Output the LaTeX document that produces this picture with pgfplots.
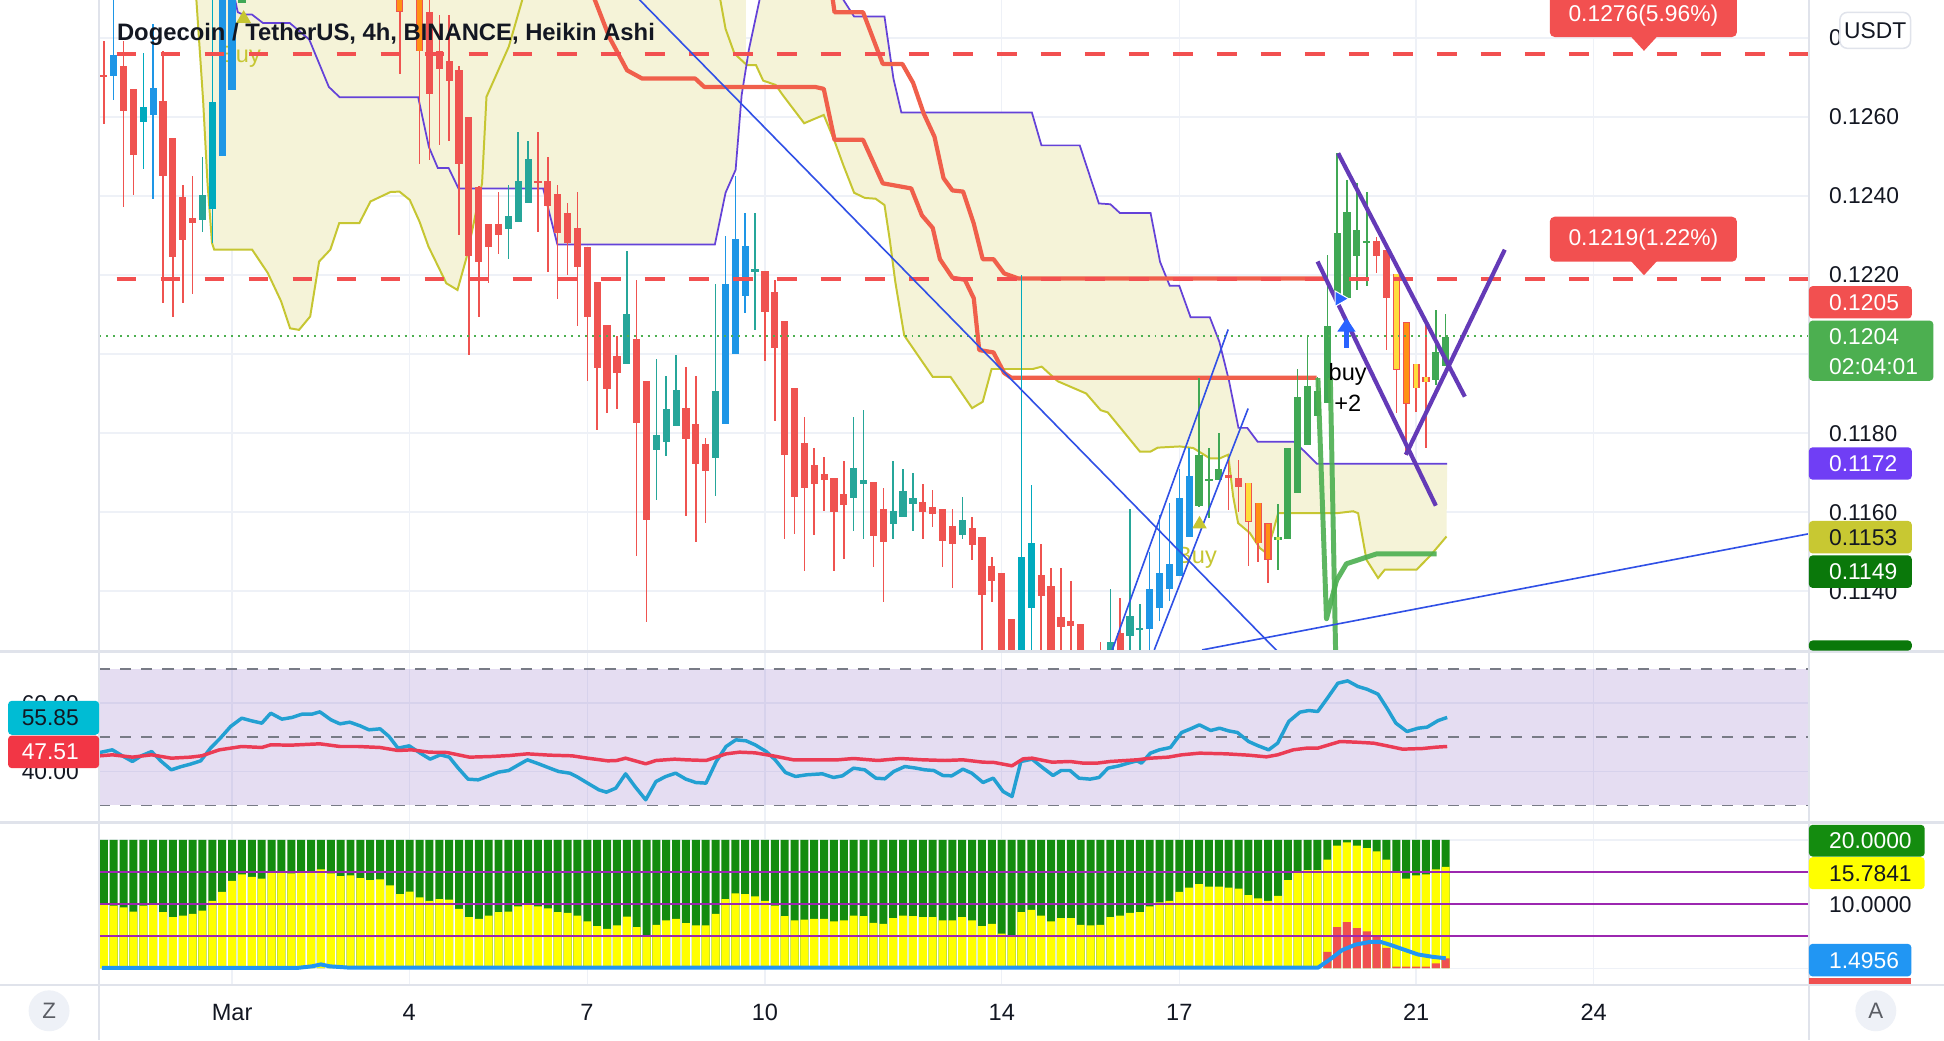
\documentclass[border=0pt]{standalone}
\usepackage{pgfplots}
\pgfplotsset{compat=1.18}
\usepackage{pgfplotstable}
\usepackage{fontspec}
\setmainfont{Liberation Sans}
\usetikzlibrary{arrows.meta}

\definecolor{cRed}{RGB}{239,83,80}
\definecolor{cTeal}{RGB}{38,166,154}
\definecolor{cCyan}{RGB}{0,170,190}
\definecolor{cBlue}{RGB}{30,150,230}
\definecolor{cGreen}{RGB}{64,168,85}
\definecolor{cOrange}{RGB}{255,145,20}
\definecolor{cYellow}{RGB}{255,220,60}
\definecolor{cLime}{RGB}{200,230,80}
\definecolor{cCloud}{RGB}{245,243,216}
\definecolor{cOlive}{RGB}{198,198,50}
\definecolor{cPurple}{RGB}{100,66,216}
\definecolor{cLine}{RGB}{240,95,75}
\definecolor{cDash}{RGB}{242,80,80}
\definecolor{cTrend}{RGB}{48,80,230}
\definecolor{cChan}{RGB}{100,58,183}
\definecolor{cThickG}{RGB}{76,175,80}
\definecolor{cRsiB}{RGB}{35,160,210}
\definecolor{cRsiR}{RGB}{235,60,85}
\definecolor{cRsiBg}{RGB}{126,87,194}
\definecolor{cRsiDash}{RGB}{120,123,134}
\definecolor{cBarG}{RGB}{20,140,15}
\definecolor{cBarY}{RGB}{255,255,0}
\definecolor{cBarR}{RGB}{240,80,80}
\definecolor{cBarB}{RGB}{33,150,243}
\definecolor{cHl}{RGB}{156,39,176}
\definecolor{cGrid}{RGB}{238,241,247}
\definecolor{cSep}{RGB}{224,227,235}
\definecolor{cTxt}{RGB}{19,23,34}
\definecolor{bRed}{RGB}{242,80,80}
\definecolor{bGreen}{RGB}{76,175,80}
\definecolor{bPurple}{RGB}{112,62,245}
\definecolor{bOlive}{RGB}{200,200,50}
\definecolor{bDkGreen}{RGB}{10,120,10}
\definecolor{bCyan}{RGB}{0,188,212}
\definecolor{bRsiRed}{RGB}{242,54,69}
\definecolor{cMark}{RGB}{41,98,255}

% ---------- candles (Heikin Ashi): k = 4h bar index from 1 Mar ----------
\pgfplotstableread{
k bt bb wt wb
-13 0.12705 0.12701 0.12793 0.12582
-11 0.12729 0.12614 0.12793 0.12372
-10 0.12672 0.12503 0.12672 0.12403
-7 0.12640 0.12451 0.12766 0.12129
-6 0.12547 0.12245 0.12547 0.12093
-5 0.12398 0.12289 0.12429 0.12129
-4 0.12343 0.12332 0.12451 0.12151
20 0.12866 0.12658 0.12900 0.12490
21 0.12766 0.12721 0.12858 0.12529
22 0.12742 0.12692 0.12858 0.12540
23 0.12719 0.12482 0.12729 0.12300
24 0.12600 0.12247 0.12600 0.11998
25 0.12424 0.12232 0.12424 0.12093
26 0.12329 0.12272 0.12329 0.12179
27 0.12329 0.12300 0.12411 0.12253
31 0.12437 0.12433 0.12561 0.12308
32 0.12437 0.12375 0.12498 0.12208
33 0.12405 0.12306 0.12429 0.12140
34 0.12356 0.12282 0.12382 0.12200
35 0.12319 0.12221 0.12411 0.12072
36 0.12272 0.12093 0.12272 0.11932
37 0.12182 0.11964 0.12182 0.11808
38 0.12074 0.11912 0.12074 0.11851
39 0.11995 0.11953 0.12045 0.11861
41 0.12037 0.11826 0.12187 0.11489
42 0.11932 0.11580 0.11932 0.11321
46 0.11863 0.11785 0.11966 0.11589
47 0.11824 0.11721 0.11945 0.11524
48 0.11772 0.11705 0.11787 0.11572
54 0.12211 0.12106 0.12211 0.11982
55 0.12158 0.12014 0.12187 0.11830
56 0.12084 0.11745 0.12084 0.11532
57 0.11914 0.11638 0.11914 0.11545
58 0.11774 0.11661 0.11840 0.11451
59 0.11719 0.11672 0.11761 0.11542
60 0.11695 0.11680 0.11740 0.11603
61 0.11687 0.11601 0.11687 0.11451
62 0.11645 0.11619 0.11730 0.11482
65 0.11677 0.11540 0.11677 0.11461
66 0.11608 0.11524 0.11661 0.11372
70 0.11626 0.11600 0.11672 0.11532
71 0.11614 0.11596 0.11656 0.11563
72 0.11608 0.11526 0.11608 0.11461
73 0.11566 0.11519 0.11608 0.11408
75 0.11559 0.11516 0.11587 0.11479
76 0.11537 0.11390 0.11537 0.11200
77 0.11464 0.11426 0.11487 0.11372
78 0.11445 0.11200 0.11445 0.11200
79 0.11330 0.11200 0.11330 0.11200
82 0.11440 0.11387 0.11519 0.11200
83 0.11414 0.11200 0.11458 0.11200
84 0.11335 0.11308 0.11458 0.11200
85 0.11324 0.11311 0.11426 0.11200
86 0.11316 0.11200 0.11316 0.11200
88 0.11240 0.11200 0.11272 0.11200
90 0.11293 0.11200 0.11382 0.11200
101 0.11694 0.11685 0.11740 0.11605
102 0.11687 0.11664 0.11732 0.11601
116 0.12285 0.12248 0.12297 0.12204
117 0.12263 0.12141 0.12263 0.12010
}\tRed
\pgfplotstableread{
k bt bb wt wb
-3 0.12403 0.12340 0.12498 0.12308
28 0.12348 0.12317 0.12429 0.12240
29 0.12438 0.12333 0.12561 0.12333
30 0.12493 0.12382 0.12540 0.12382
40 0.12101 0.11974 0.12261 0.11974
43 0.11795 0.11756 0.11987 0.11630
44 0.11861 0.11777 0.11945 0.11742
45 0.11908 0.11819 0.11998 0.11819
49 0.11906 0.11737 0.12177 0.11640
53 0.12214 0.12208 0.12358 0.12061
63 0.11711 0.11635 0.11840 0.11551
64 0.11682 0.11672 0.11859 0.11532
67 0.11603 0.11569 0.11730 0.11532
68 0.11653 0.11587 0.11708 0.11587
69 0.11635 0.11621 0.11700 0.11551
74 0.11580 0.11542 0.11637 0.11532
89 0.11272 0.11200 0.11405 0.11200
91 0.11338 0.11287 0.11608 0.11200
92 0.11306 0.11301 0.11366 0.11200
}\tTeal
\pgfplotstableread{
k bt bb wt wb
-9 0.12626 0.12586 0.12761 0.12468
-2 0.12637 0.12368 0.12920 0.12282
80 0.11487 0.11200 0.12200 0.11200
81 0.11521 0.11356 0.11668 0.11200
}\tCyan
\pgfplotstableread{
k bt bb wt wb
-12 0.12756 0.12703 0.12920 0.12642
-8 0.12674 0.12605 0.12835 0.12393
-1 0.13000 0.12500 0.13050 0.12500
0 0.13050 0.12668 0.13100 0.12668
50 0.12176 0.11824 0.12298 0.11824
51 0.12290 0.12000 0.12451 0.12000
52 0.12274 0.12147 0.12358 0.12103
93 0.11405 0.11303 0.11498 0.11200
94 0.11447 0.11356 0.11593 0.11324
95 0.11468 0.11405 0.11624 0.11374
96 0.11635 0.11437 0.11708 0.11437
97 0.11690 0.11537 0.11761 0.11537
}\tBlue
\pgfplotstableread{
k bt bb wt wb
1 0.13000 0.12889 0.13050 0.12889
98 0.11744 0.11614 0.11939 0.11614
99 0.11683 0.11680 0.11761 0.11584
100 0.11708 0.11681 0.11799 0.11681
107 0.11761 0.11533 0.11761 0.11533
108 0.11892 0.11649 0.11961 0.11649
109 0.11919 0.11770 0.12048 0.11770
110 0.11907 0.11844 0.11943 0.11844
111 0.12071 0.11875 0.12251 0.11875
112 0.12307 0.12141 0.12508 0.12141
113 0.12360 0.12141 0.12441 0.12141
114 0.12314 0.12248 0.12432 0.12162
115 0.12287 0.12282 0.12411 0.12171
122 0.12004 0.11934 0.12112 0.11922
123 0.12042 0.11970 0.12101 0.11970
}\tGreen
\pgfplotstableread{
k bt bb wt wb
17 0.13000 0.12866 0.13000 0.12708
19 0.13000 0.12766 0.13000 0.12482
104 0.11624 0.11521 0.11624 0.11474
105 0.11571 0.11479 0.11571 0.11421
119 0.12080 0.11874 0.12080 0.11744
}\tOrange
\pgfplotstableread{
k bt bb wt wb
103 0.11674 0.11576 0.11674 0.11463
118 0.12203 0.11960 0.12203 0.11852
120 0.11975 0.11913 0.11975 0.11852
121 0.11943 0.11928 0.12086 0.11761
}\tYellow
\pgfplotstableread{
k bt bb wt wb
106 0.11538 0.11529 0.11620 0.11453
}\tLime

% ---------- oscillator panel ----------
\pgfplotstableread{
k g y
-13 20 9.85
-12 20 9.74
-11 20 9.49
-10 20 8.82
-9 20 9.74
-8 20 9.85
-7 20 8.72
-6 20 7.95
-5 20 8.21
-4 20 8.46
-3 20 8.97
-2 20 10.51
-1 20 11.90
0 20 13.59
1 20 14.62
2 20 14.21
3 20 13.95
4 20 15.13
5 20 14.87
6 20 14.77
7 20 14.97
8 20 14.97
9 20 15.38
10 20 14.77
11 20 14.36
12 20 14.46
13 20 14.05
14 20 13.74
15 20 13.85
16 20 12.92
17 20 11.54
18 20 11.95
19 20 11.03
20 20 10.51
21 20 10.77
22 20 10.67
23 20 9.23
24 20 7.95
25 20 7.69
26 20 8.21
27 20 8.72
28 20 8.82
29 20 9.64
30 20 9.85
31 20 9.64
32 20 9.33
33 20 8.72
34 20 8.62
35 20 8.21
36 20 7.28
37 20 6.56
38 20 6.15
39 20 6.67
40 20 8.05
41 20 6.41
42 20 5.03
43 20 6.77
44 20 7.44
45 20 7.69
46 20 7.03
47 20 6.67
48 20 6.67
49 20 8.46
50 20 10.77
51 20 11.64
52 20 11.54
53 20 11.18
54 20 10.51
55 20 9.74
56 20 8.13
57 20 7.44
58 20 7.59
59 20 7.69
60 20 7.69
61 20 7.28
62 20 7.44
63 20 8.21
64 20 8.10
65 20 7.08
66 20 6.92
67 20 7.79
68 20 8.21
69 20 8.10
70 20 7.95
71 20 7.95
72 20 7.44
73 20 7.44
74 20 7.95
75 20 7.44
76 20 6.56
77 20 6.92
78 20 5.38
79 20 4.87
80 20 8.72
81 20 9.08
82 20 8.21
83 20 7.28
84 20 7.79
85 20 7.79
86 20 6.77
87 20 6.67
88 20 6.77
89 20 7.95
90 20 8.21
91 20 8.62
92 20 8.72
93 20 9.64
94 20 10.26
95 20 10.51
96 20 11.90
97 20 12.56
98 20 13.08
99 20 12.72
100 20 12.72
101 20 12.56
102 20 12.41
103 20 11.38
104 20 10.87
105 20 10.51
106 20 11.28
107 20 13.74
108 20 15.13
109 20 15.28
110 20 15.28
111 20 16.92
112 20 19.08
113 20 19.59
114 20 19.08
115 20 18.72
116 20 18.21
117 20 16.92
118 20 15.13
119 20 13.95
120 20 14.46
121 20 14.62
122 20 15.38
123 20 15.78
}\tOsc
\pgfplotstableread{
k r
111 2.56
112 6.41
113 7.18
114 6.26
115 5.74
116 4.87
117 3.18
118 0.26
119 0.26
120 0.26
121 0.26
122 0.77
123 1.54
}\tOscR

\pgfplotsset{candle/.style={only marks, mark=*, mark size=0pt, mark options={draw=none, fill=none}}}
\newcommand{\candles}[3]{%
\addplot[candle, color=#2, error bars/.cd, y dir=both, y explicit, error mark=none,
  error bar style={line width=0.6pt}]
  table[x expr=\thisrow{k}/6, y expr=(\thisrow{wt}+\thisrow{wb})/2, y error expr=(\thisrow{wt}-\thisrow{wb})/2] {#1};
\addplot[candle, color=#3, error bars/.cd, y dir=both, y explicit, error mark=none,
  error bar style={line width=2.9pt}]
  table[x expr=\thisrow{k}/6, y expr=(\thisrow{bt}+\thisrow{bb})/2, y error expr=(\thisrow{bt}-\thisrow{bb})/2] {#1};
}
\newcommand{\innerbody}[2]{%
\addplot[candle, color=#2, error bars/.cd, y dir=both, y explicit, error mark=none,
  error bar style={line width=1.9pt}]
  table[x expr=\thisrow{k}/6, y expr=(\thisrow{bt}+\thisrow{bb})/2, y error expr=(\thisrow{bt}-\thisrow{bb})/2-0.000012] {#1};
}

\pgfplotsset{panel/.style={scale only axis, width=689.5pt, xmin=-2.245, xmax=26.634,
  axis line style={draw=none}, major tick length=0pt,
  xtick={0,3,6,9,13,16,20,23}, xticklabel=\empty, yticklabel=\empty,
  scaled y ticks=false, scaled x ticks=false,
  grid=major, major grid style={draw=cGrid, line width=0.6pt},
  clip mode=individual, anchor=north west}}

\newcommand{\lf}{\fontsize{9.2}{10}\selectfont}

\begin{document}
\begin{tikzpicture}
\fill[white] (0,0) rectangle (784pt,419.5pt);
\useasboundingbox (0,0) rectangle (784pt,419.5pt);

% ================= MAIN PANEL =================
\begin{axis}[panel, at={(40pt,419.5pt)}, height=262.75pt,
  ymin=0.11247, ymax=0.12896,
  ytick={0.114,0.116,0.118,0.120,0.122,0.124,0.126,0.128}]
% cloud
\addplot[fill=cCloud, draw=none] coordinates {
(-0.603,0.12928) (-0.603,0.12896) (-0.490,0.12643) (-0.415,0.12432) (-0.339,0.12281) (-0.302,0.12264)
(0.339,0.12264) (0.603,0.12205) (0.829,0.12133) (0.980,0.12065) (1.131,0.12061) (1.319,0.12095)
(1.470,0.12234) (1.659,0.12264) (1.809,0.12331) (2.149,0.12331) (2.337,0.12386) (2.676,0.12410)
(2.827,0.12411) (3.001,0.12390) (3.166,0.12335) (3.317,0.12272) (3.619,0.12179) (3.807,0.12162)
(3.958,0.12243) (4.205,0.12419) (5.254,0.12419) (5.495,0.12277) (8.155,0.12277) (8.335,0.12408)
(8.505,0.12466) (8.607,0.12655) (8.677,0.12731) (8.677,0.12928)};
\addplot[fill=cCloud, draw=none] coordinates {
(8.677,0.12731) (8.729,0.12770) (8.909,0.12896) (8.909,0.12928) (10.327,0.12928) (10.327,0.12896)
(10.507,0.12854) (11.020,0.12854) (11.171,0.12697) (11.305,0.12611) (13.510,0.12611) (13.671,0.12528)
(14.318,0.12528) (14.641,0.12381) (14.836,0.12379) (14.995,0.12357) (15.514,0.12357) (15.675,0.12233)
(15.837,0.12173) (15.998,0.12173) (16.190,0.12093) (16.515,0.12093) (16.676,0.12031) (16.838,0.11933)
(16.999,0.11813) (17.148,0.11813) (17.323,0.11778) (17.937,0.11778) (18.132,0.11751) (18.325,0.11722)
(20.524,0.11722) (20.513,0.11538) (20.230,0.11488) (20.006,0.11454) (19.470,0.11454) (19.357,0.11433)
(19.162,0.11479) (19.020,0.11597) (18.936,0.11602) (18.655,0.11597) (17.669,0.11597) (17.585,0.11551)
(17.472,0.11496) (17.359,0.11509) (17.191,0.11547) (16.993,0.11572) (16.909,0.11640) (16.825,0.11745)
(16.685,0.11736) (16.515,0.11736) (16.375,0.11749) (16.235,0.11762) (16.008,0.11766) (15.636,0.11763)
(15.514,0.11753) (15.334,0.11753) (14.792,0.11852) (14.670,0.11858) (14.427,0.11900) (13.946,0.11931)
(13.675,0.11968) (13.525,0.11962) (12.829,0.11962) (12.679,0.11879) (12.499,0.11863) (12.136,0.11942)
(11.835,0.11942) (11.353,0.12047) (11.202,0.12183) (11.110,0.12288) (11.020,0.12377) (10.869,0.12393)
(10.689,0.12395) (10.507,0.12408) (10.327,0.12477) (10.176,0.12539) (9.994,0.12605) (9.663,0.12584)
(9.303,0.12655) (9.181,0.12681) (8.970,0.12692) (8.850,0.12731) (8.697,0.12731)};
% olive span
\addplot[cOlive, line width=0.8pt] coordinates {
(-0.62,0.1300) (-0.603,0.12896) (-0.490,0.12643) (-0.415,0.12432) (-0.339,0.12281) (-0.302,0.12264)
(0.339,0.12264) (0.603,0.12205) (0.829,0.12133) (0.980,0.12065) (1.131,0.12061) (1.319,0.12095)
(1.470,0.12234) (1.659,0.12264) (1.809,0.12331) (2.149,0.12331) (2.337,0.12386) (2.676,0.12410)
(2.827,0.12411) (3.001,0.12390) (3.166,0.12335) (3.317,0.12272) (3.619,0.12179) (3.807,0.12162)
(3.958,0.12243) (4.222,0.12432) (4.297,0.12651) (4.674,0.12778) (4.901,0.12896) (4.980,0.12959)
(8.163,0.12959) (8.247,0.12896) (8.335,0.12823) (8.486,0.12760) (8.697,0.12731) (8.850,0.12731)
(8.970,0.12692) (9.181,0.12681) (9.303,0.12655) (9.663,0.12584) (9.994,0.12605) (10.176,0.12539)
(10.327,0.12477) (10.507,0.12408) (10.689,0.12395) (10.869,0.12393) (11.020,0.12377) (11.110,0.12288)
(11.202,0.12183) (11.353,0.12047) (11.835,0.11942) (12.136,0.11942) (12.499,0.11863) (12.679,0.11879)
(12.829,0.11962) (13.525,0.11962) (13.675,0.11968) (13.946,0.11931) (14.427,0.11900) (14.670,0.11858)
(14.792,0.11852) (15.334,0.11753) (15.514,0.11753) (15.636,0.11763) (16.008,0.11766) (16.235,0.11762)
(16.375,0.11749) (16.515,0.11736) (16.685,0.11736) (16.825,0.11745) (16.909,0.11640) (16.993,0.11572)
(17.191,0.11547) (17.359,0.11509) (17.472,0.11496) (17.585,0.11551) (17.669,0.11597) (18.655,0.11597)
(18.936,0.11602) (19.020,0.11597) (19.162,0.11479) (19.357,0.11433) (19.470,0.11454) (20.006,0.11454)
(20.230,0.11488) (20.513,0.11538)};
% purple line
\addplot[cPurple, line width=0.7pt] coordinates {
(-0.1,0.1300) (0.096,0.12865) (0.186,0.12859) (0.337,0.12859) (0.519,0.12838) (0.972,0.12838)
(1.303,0.12796) (1.634,0.12676) (1.816,0.12650) (3.143,0.12650) (3.324,0.12524) (3.474,0.12471)
(3.657,0.12471) (3.824,0.12419) (5.254,0.12419) (5.495,0.12277) (8.155,0.12277) (8.335,0.12408)
(8.505,0.12466) (8.607,0.12655) (8.729,0.12770) (8.909,0.12896) (9.0,0.1300) (10.2,0.1300)
(10.327,0.12896) (10.507,0.12854) (11.020,0.12854) (11.171,0.12697) (11.305,0.12611) (13.510,0.12611)
(13.671,0.12528) (14.318,0.12528) (14.641,0.12381) (14.836,0.12379) (14.995,0.12357) (15.514,0.12357)
(15.675,0.12233) (15.837,0.12173) (15.998,0.12173) (16.190,0.12093) (16.515,0.12093) (16.676,0.12031)
(16.838,0.11933) (16.999,0.11813) (17.148,0.11813) (17.323,0.11778) (17.937,0.11778) (18.132,0.11751)
(18.325,0.11722) (20.524,0.11722)};
% thick red lines
\addplot[cLine, line width=1.7pt, line join=round] coordinates {
(6.048,0.12928) (6.128,0.12896) (6.371,0.12802) (6.672,0.12718) (6.928,0.12697) (7.824,0.12697)
(7.975,0.12676) (9.845,0.12676) (9.994,0.12671) (10.176,0.12542) (10.658,0.12542) (10.991,0.12432)
(11.472,0.12419) (11.652,0.12351) (11.835,0.12319) (11.956,0.12240) (12.168,0.12193) (12.377,0.12188)
(12.528,0.12141) (12.620,0.12010) (12.861,0.12004) (13.041,0.11952) (13.160,0.11940) (18.320,0.11940)};
\addplot[cLine, line width=1.7pt, line join=round] coordinates {
(10.122,0.12928) (10.147,0.12896) (10.176,0.12865) (10.658,0.12865) (10.991,0.12734) (11.322,0.12734)
(11.504,0.12686) (11.684,0.12608) (11.864,0.12550) (12.017,0.12445) (12.168,0.12414) (12.348,0.12411)
(12.528,0.12330) (12.679,0.12240) (12.861,0.12240) (13.041,0.12204) (13.282,0.12191) (18.455,0.12191)};
% Buy labels (behind candles)
\node[text=cOlive, font=\fontsize{9.5}{10}\selectfont] at (axis cs:0.142,0.12752) {Buy};
\node[text=cOlive, font=\fontsize{9.5}{10}\selectfont] at (axis cs:16.29,0.11484) {Buy};
% candles
\candles{\tRed}{cRed}{cRed}
\candles{\tTeal}{cTeal}{cTeal}
\candles{\tCyan}{cCyan}{cCyan}
\candles{\tBlue}{cBlue}{cBlue}
\candles{\tGreen}{cGreen}{cGreen}
\candles{\tOrange}{cRed}{cRed}
\innerbody{\tOrange}{cOrange}
\candles{\tYellow}{cRed}{cRed}
\innerbody{\tYellow}{cYellow}
\candles{\tLime}{cGreen}{cGreen}
\innerbody{\tLime}{cLime}
% thick green lines
\addplot[cThickG, line width=2pt, opacity=0.9, line join=round] coordinates {
(18.341,0.11939) (18.486,0.11330) (18.656,0.11427) (18.823,0.11469) (19.330,0.11494) (20.344,0.11494)};
\addplot[cThickG, line width=2pt, opacity=0.9] coordinates {(18.551,0.11939) (18.646,0.11200)};
% dashed target lines
\addplot[cDash, line width=1.6pt, dash pattern=on 8pt off 9.75pt] coordinates {(-1.952,0.1276) (26.634,0.1276)};
\addplot[cDash, line width=1.6pt, dash pattern=on 8pt off 9.75pt] coordinates {(-1.952,0.1219) (26.634,0.1219)};
% current price dotted line
\addplot[cThickG, line width=0.6pt, dash pattern=on 0.8pt off 2pt] coordinates {(-2.245,0.12045) (26.634,0.12045)};
% blue trend lines
\addplot[cTrend, line width=0.65pt] coordinates {(6.5,0.12955) (18.0,0.11195)};
\addplot[cTrend, line width=0.65pt] coordinates {(14.867,0.11251) (16.825,0.12062)};
\addplot[cTrend, line width=0.65pt] coordinates {(15.577,0.11251) (17.162,0.11862)};
\addplot[cTrend, line width=0.65pt] coordinates {(16.385,0.11251) (26.634,0.11545)};
% purple channel
\addplot[cChan, line width=1.7pt] coordinates {(18.683,0.12508) (20.823,0.11892)};
\addplot[cChan, line width=1.7pt] coordinates {(18.335,0.12234) (20.333,0.11616)};
\addplot[cChan, line width=1.7pt] coordinates {(19.826,0.11745) (21.497,0.12264)};
% signal markers
\addplot[only marks, mark=triangle*, mark size=3pt, color=cOlive] coordinates {(0.195,0.12849) (16.341,0.11569)};
\addplot[only marks, mark=triangle*, mark size=3.6pt, color=cMark, mark options={rotate=-90, draw=white, line width=0.4pt}] coordinates {(18.708,0.12140)};
\addplot[cMark, line width=2pt, -{Triangle[width=7pt,length=5.5pt]}] coordinates {(18.823,0.12016) (18.823,0.12091)};
\node[text=black, font=\fontsize{9.5}{10}\selectfont] at (axis cs:18.844,0.11949) {buy};
\node[text=black, font=\fontsize{9.5}{10}\selectfont] at (axis cs:18.844,0.11876) {+2};
\end{axis}

% ================= RSI PANEL =================
\begin{axis}[panel, at={(40pt,156.75pt)}, height=68.95pt, ymin=25.03, ymax=75.08, ytick={40,60}]
\addplot[fill=cRsiBg, fill opacity=0.2, draw=none] coordinates {(-2.245,30) (26.634,30) (26.634,70) (-2.245,70)};
\addplot[cRsiDash, line width=0.7pt, dash pattern=on 4.5pt off 4pt] coordinates {(-2.245,70) (26.634,70)};
\addplot[cRsiDash, line width=0.7pt, dash pattern=on 4.5pt off 4pt] coordinates {(-2.245,50) (26.634,50)};
\addplot[cRsiDash, line width=0.7pt, dash pattern=on 4.5pt off 4pt] coordinates {(-2.245,30) (26.634,30)};
\addplot[cRsiB, line width=1.4pt, line join=round] coordinates {
(-2.234,45.51) (-2.023,46.29) (-1.835,44.34) (-1.684,42.88) (-1.533,44.54) (-1.360,45.80) (-1.194,42.88)
(-1.028,40.44) (-0.855,41.41) (-0.704,42.10) (-0.530,43.07) (-0.365,46.78) (-0.199,49.71) (-0.025,53.12)
(0.163,55.56) (0.329,54.78) (0.502,54.10) (0.653,57.02) (0.842,55.27) (1.008,55.76) (1.181,56.73)
(1.347,56.73) (1.483,57.41) (1.671,55.07) (1.822,53.90) (1.988,54.39) (2.161,53.32) (2.312,52.15)
(2.500,52.44) (2.651,50.20) (2.802,46.78) (2.991,47.46) (3.179,45.32) (3.345,43.56) (3.518,44.83)
(3.669,44.15) (3.820,40.93) (3.986,37.71) (4.159,37.51) (4.310,38.49) (4.499,39.76) (4.672,40.24)
(4.838,41.90) (4.989,43.37) (5.177,42.20) (5.366,40.93) (5.516,39.95) (5.705,39.46) (5.818,38.49)
(6.006,36.54) (6.195,34.59) (6.323,33.90) (6.481,35.07) (6.647,39.27) (6.813,35.37) (6.987,31.66)
(7.160,37.02) (7.326,38.49) (7.492,39.46) (7.665,37.71) (7.831,36.73) (8.005,36.54) (8.178,42.88)
(8.344,47.27) (8.510,49.22) (8.683,48.93) (8.834,47.76) (9.022,45.80) (9.173,43.37) (9.347,39.66)
(9.517,38.49) (9.705,38.98) (9.969,39.27) (10.158,38.20) (10.309,38.68) (10.497,40.93) (10.686,40.44)
(10.874,38.00) (11.025,37.81) (11.176,39.95) (11.364,41.41) (11.553,40.93) (11.703,40.44) (11.854,40.24)
(12.005,38.78) (12.156,38.68) (12.344,40.63) (12.495,39.46) (12.684,36.73) (12.857,38.00) (13.023,34.10)
(13.174,32.63) (13.324,42.88) (13.513,43.56) (13.701,40.93) (13.867,38.78) (14.003,40.24) (14.154,40.24)
(14.305,38.00) (14.493,37.71) (14.644,38.20) (14.795,40.93) (14.983,41.61) (15.134,42.39) (15.285,43.07)
(15.360,42.39) (15.511,45.32) (15.662,46.29) (15.850,46.98) (16.039,51.37) (16.190,52.44) (16.340,53.61)
(16.529,51.95) (16.680,52.63) (16.830,51.85) (16.981,51.37) (17.170,48.73) (17.320,47.56) (17.509,46.29)
(17.660,48.24) (17.848,54.59) (18.037,57.32) (18.188,57.80) (18.338,57.51) (18.489,61.12) (18.678,65.80)
(18.843,66.49) (19.017,64.83) (19.168,64.05) (19.356,62.59) (19.507,58.49) (19.658,54.10) (19.846,51.66)
(20.035,52.63) (20.186,52.93) (20.374,54.88) (20.525,55.76)};
\addplot[cRsiR, line width=1.4pt, line join=round] coordinates {
(-2.234,44.54) (-2.023,44.83) (-1.684,44.15) (-1.360,44.83) (-1.028,43.85) (-0.704,44.15) (-0.515,44.54)
(-0.214,46.29) (0.163,47.27) (0.502,46.98) (0.653,47.76) (0.993,47.66) (1.347,47.95) (1.483,48.05)
(1.822,47.27) (2.124,47.27) (2.500,46.98) (2.802,46.10) (3.028,46.29) (3.330,45.61) (3.631,45.51)
(4.008,44.15) (4.385,44.34) (4.687,44.63) (4.989,45.12) (5.366,44.73) (5.742,44.54) (6.006,43.85)
(6.346,43.07) (6.496,43.17) (6.647,43.85) (6.987,42.20) (7.160,43.17) (7.477,43.56) (7.665,43.37)
(8.005,43.17) (8.344,45.12) (8.570,45.61) (8.834,45.41) (9.136,44.54) (9.479,43.37) (9.856,43.37)
(10.233,43.37) (10.497,43.76) (10.912,43.17) (11.289,43.76) (11.666,43.37) (12.043,43.17) (12.344,43.37)
(12.684,42.68) (12.872,42.59) (13.174,41.61) (13.362,43.66) (13.513,43.85) (13.852,42.68) (14.154,42.88)
(14.380,42.39) (14.606,42.39) (14.832,42.88) (15.285,43.37) (15.511,43.85) (15.812,44.15) (16.039,44.83)
(16.340,45.32) (16.793,45.12) (17.170,44.73) (17.471,44.24) (17.660,44.83) (17.924,46.29) (18.150,46.78)
(18.338,46.78) (18.527,47.76) (18.715,48.73) (18.979,48.54) (19.281,48.24) (19.507,47.46) (19.771,46.49)
(20.110,46.68) (20.336,47.07) (20.525,47.27)};
\end{axis}

% ================= OSCILLATOR PANEL =================
\begin{axis}[panel, at={(40pt,87.8pt)}, height=65.5pt, ymin=-2.59, ymax=22.70, ytick={0,20}]
\addplot[ybar, bar width=0.135, bar shift=0pt, fill=cBarG, draw=none] table[x expr=\thisrow{k}/6, y=g] {\tOsc};
\addplot[ybar, bar width=0.135, bar shift=0pt, fill=cBarY, draw=none] table[x expr=\thisrow{k}/6, y=y] {\tOsc};
\addplot[ybar, bar width=0.135, bar shift=0pt, fill=cBarR, draw=none] table[x expr=\thisrow{k}/6, y=r] {\tOscR};
\addplot[cHl, line width=0.8pt] coordinates {(-2.245,15) (26.634,15)};
\addplot[cHl, line width=0.8pt] coordinates {(-2.245,10) (26.634,10)};
\addplot[cHl, line width=0.8pt] coordinates {(-2.245,5) (26.634,5)};
\addplot[cBarB, line width=1.6pt, line join=round] coordinates {
(-2.2,0.05) (1.1,0.05) (1.35,0.3) (1.5,0.6) (1.65,0.3) (2.0,0.08) (18.34,0.08) (18.53,1.28) (18.75,2.82)
(18.98,3.69) (19.22,4.10) (19.40,4.10) (19.58,3.59) (19.82,2.82) (20.03,2.15) (20.27,1.79) (20.50,1.55)};
\end{axis}

% ================= OVERLAY (pixel grid 1568 x 839) =================
\begin{scope}[x=0.5pt, y=-0.5pt, shift={(0pt,419.5pt)}]
\draw[cSep, line width=1pt] (0,525.5) -- (1568,525.5);
\draw[cSep, line width=1pt] (0,663.4) -- (1568,663.4);
\draw[cSep, line width=1pt] (0,794.4) -- (1568,794.4);
\draw[cSep, line width=1pt] (80,0) -- (80,839);
\draw[cSep, line width=1pt] (1459,0) -- (1459,839);

% title
\node[anchor=base west, inner sep=0, text=cTxt, font=\fontsize{9.6}{11}\selectfont\bfseries] at (94,32.3)
  {Dogecoin / TetherUS, 4h, BINANCE, Heikin Ashi};

% target boxes
\fill[bRed, rounded corners=2pt] (1250,-6) rectangle (1401,29.9);
\fill[bRed] (1315,29) -- (1337,29) -- (1326,41) -- cycle;
\node[text=white, font=\lf] at (1325.5,12.5) {0.1276(5.96\%)};
\fill[bRed, rounded corners=2pt] (1250,174.8) rectangle (1401,211.1);
\fill[bRed] (1315,210) -- (1337,210) -- (1326,222) -- cycle;
\node[text=white, font=\lf] at (1325.5,193) {0.1219(1.22\%)};

% right price scale
\foreach \yy/\tt in {30.6/0.1280, 94.4/0.1260, 158.2/0.1240, 221.9/0.1220, 285.7/0.1200,
   349.4/0.1180, 413.2/0.1160, 476.9/0.1140}
  \node[anchor=west, inner sep=0, text=cTxt, font=\lf] at (1475,\yy) {\tt};
\filldraw[fill=white, draw=cSep, line width=0.6pt, rounded corners=3pt] (1484,10) rectangle (1541,39);
\node[text=cTxt, font=\lf] at (1512.5,24.5) {USDT};
\fill[bRed, rounded corners=1.5pt] (1459,230.8) rectangle (1542,256.9);
\node[anchor=west, inner sep=0, text=white, font=\lf] at (1475,243.9) {0.1205};
\fill[bGreen, rounded corners=1.5pt] (1459,258.6) rectangle (1559.4,307.2);
\node[anchor=west, inner sep=0, text=white, font=\lf] at (1475,271.3) {0.1204};
\node[anchor=west, inner sep=0, text=white, font=\lf] at (1475,295.4) {02:04:01};
\fill[bPurple, rounded corners=1.5pt] (1459,360.8) rectangle (1542,386.9);
\node[anchor=west, inner sep=0, text=white, font=\lf] at (1475,373.9) {0.1172};
\fill[bOlive, rounded corners=1.5pt] (1459,420.2) rectangle (1542,446.4);
\node[anchor=west, inner sep=0, text=cTxt, font=\lf] at (1475,433.3) {0.1153};
\fill[bDkGreen, rounded corners=1.5pt] (1459,448) rectangle (1542,474.2);
\node[anchor=west, inner sep=0, text=white, font=\lf] at (1475,461.1) {0.1149};
\fill[bDkGreen, rounded corners=1.5pt] (1459,516.6) rectangle (1542,524.8);

% RSI left scale
\node[anchor=east, inner sep=0, text=cTxt, font=\lf] at (64,567.2) {60.00};
\node[anchor=east, inner sep=0, text=cTxt, font=\lf] at (64,622.3) {40.00};
\fill[bCyan, rounded corners=1.5pt] (6.5,565.3) rectangle (80,592.7);
\node[anchor=east, inner sep=0, text=cTxt, font=\lf] at (64,579) {55.85};
\fill[bRsiRed, rounded corners=1.5pt] (6.5,593.3) rectangle (80,619.6);
\node[anchor=east, inner sep=0, text=white, font=\lf] at (64,606.5) {47.51};

% oscillator right scale
\fill[cBarG, rounded corners=1.5pt] (1459,665.3) rectangle (1552.4,690.9);
\node[anchor=west, inner sep=0, text=white, font=\lf] at (1475,678.1) {20.0000};
\fill[cBarY, rounded corners=1.5pt] (1459,691.4) rectangle (1552.4,717.2);
\node[anchor=west, inner sep=0, text=cTxt, font=\lf] at (1475,704.3) {15.7841};
\node[anchor=west, inner sep=0, text=cTxt, font=\lf] at (1475,729.8) {10.0000};
\fill[cBarB, rounded corners=1.5pt] (1459,761.3) rectangle (1541.7,787.6);
\node[anchor=west, inner sep=0, text=white, font=\lf] at (1475,774.5) {1.4956};
\fill[cBarR] (1459,788.7) rectangle (1541.7,794);

% date axis
\foreach \xx/\tt in {187.2/Mar, 330/4, 473.4/7, 617/10, 808/14, 951.2/17, 1142.2/21, 1285.4/24}
  \node[text=cTxt, font=\fontsize{9.5}{10}\selectfont] at (\xx,816.5) {\tt};
\fill[cGrid] (39.6,815.3) circle (16.5);
\node[text=cTxt!70, font=\fontsize{9}{10}\selectfont] at (39.6,815.3) {Z};
\fill[cGrid] (1513,815.3) circle (16.5);
\node[text=cTxt!70, font=\fontsize{9}{10}\selectfont] at (1513,815.3) {A};
\end{scope}
\end{tikzpicture}
\end{document}
